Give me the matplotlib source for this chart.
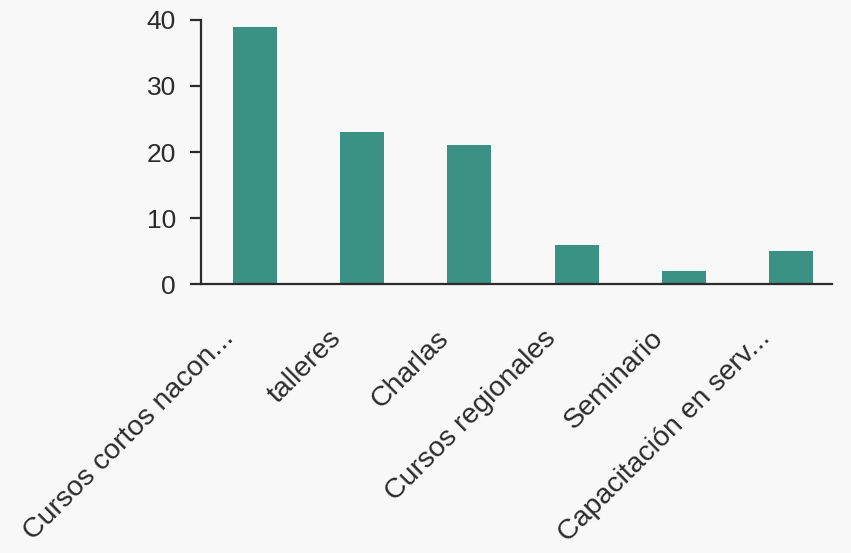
import numpy as np
import matplotlib.pyplot as plt
import matplotlib.transforms as mtransforms

plt.rcParams['font.family'] = ['Liberation Sans', 'DejaVu Sans']

# Actividades de capacitación
categorias = ['Cursos cortos nacon...', 'talleres', 'Charlas',
              'Cursos regionales', 'Seminario', 'Capacitación en serv...']
valores = [39, 23, 21, 6, 2, 5]

fondo = '#f7f8f7'
tinta = '#2b2b2b'
fig = plt.figure(figsize=(8.51, 5.53), dpi=100, facecolor=fondo)
ax = fig.add_axes([0.236, 0.486, 0.742, 0.478], facecolor=fondo)

x = np.arange(len(categorias))
ax.bar(x, valores, width=0.41, color='#3b9183', zorder=2)

ax.set_ylim(0, 40)
ax.set_xlim(-0.5, 5.38)
ax.set_yticks([0, 10, 20, 30, 40])
ax.set_xticks(x)
ax.set_xticklabels([])

# etiquetas inclinadas, terminando un poco a la izquierda del centro de la barra
desplazamiento = mtransforms.ScaledTranslation(-20 / 100, -55 / 100, fig.dpi_scale_trans)
for xi, nombre in zip(x, categorias):
    ax.text(xi, 0, nombre, transform=ax.get_xaxis_transform() + desplazamiento,
            rotation=45, ha='right', va='baseline', rotation_mode='anchor',
            fontsize=20.5, color=tinta)

for s in ['top', 'right']:
    ax.spines[s].set_visible(False)
for s in ['left', 'bottom']:
    ax.spines[s].set_color(tinta)
    ax.spines[s].set_linewidth(1.6)

ax.tick_params(axis='y', length=8, width=1.6, color=tinta,
               labelsize=19, labelcolor=tinta, pad=10)
ax.tick_params(axis='x', length=0)

fig.savefig('out.png', dpi=100, facecolor=fondo)
